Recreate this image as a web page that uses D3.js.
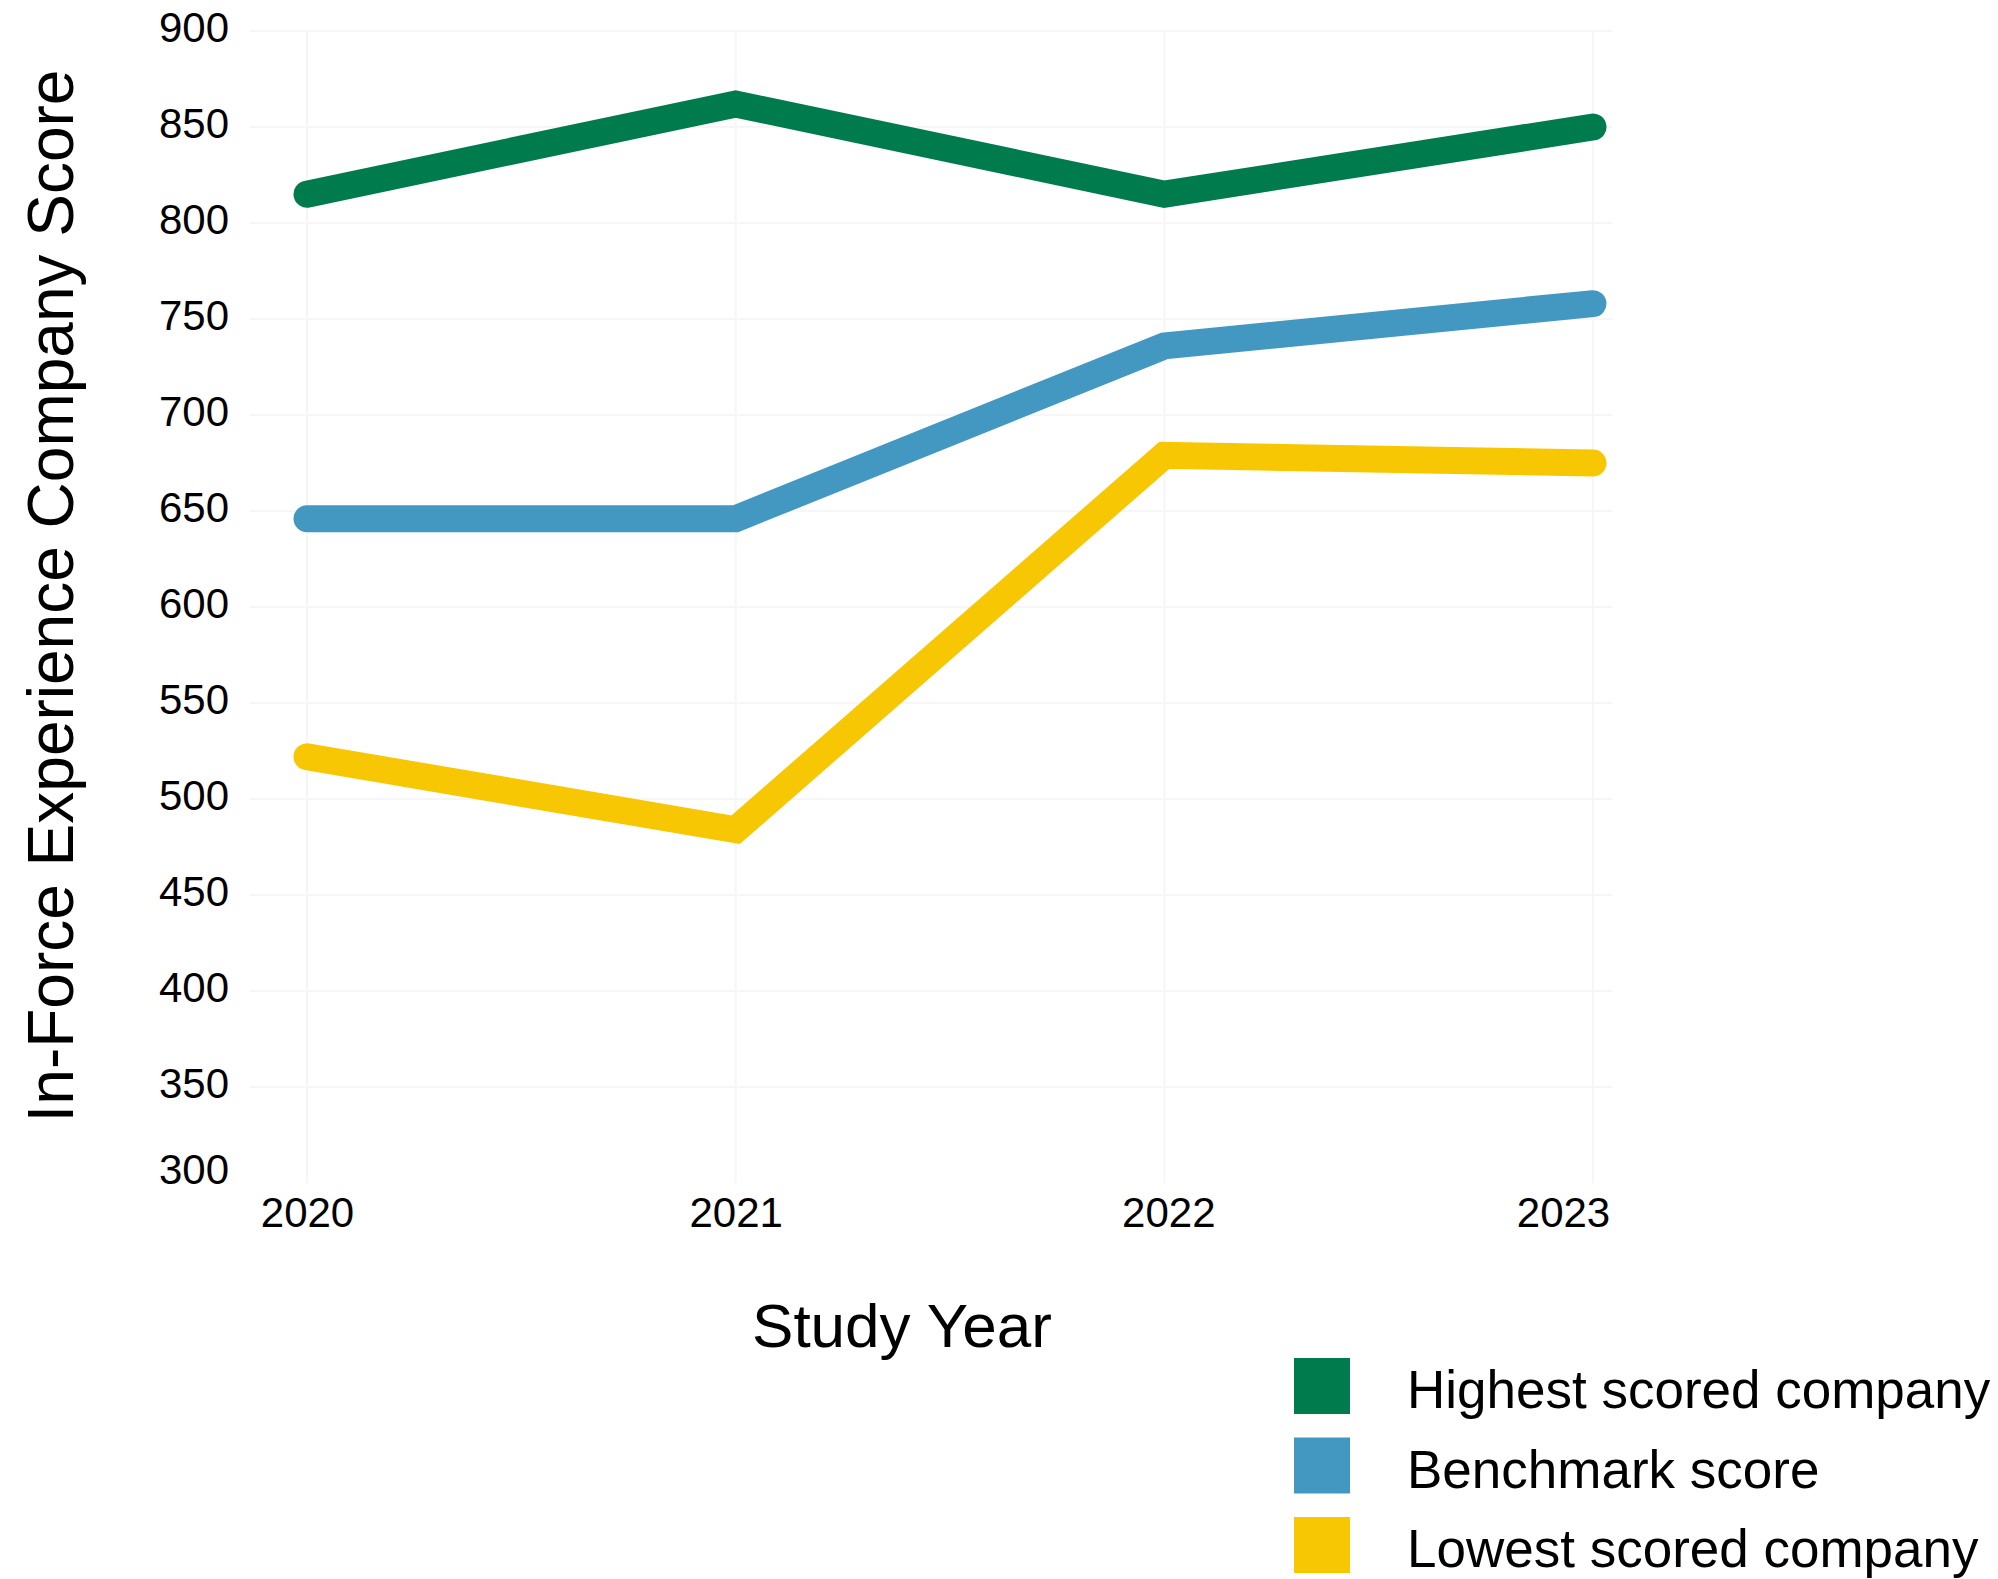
<!DOCTYPE html>
<html>
<head>
<meta charset="utf-8">
<script src="https://cdn.jsdelivr.net/npm/d3@7"></script>
<style>
  html, body { margin: 0; padding: 0; background: #fff; }
  svg { display: block; font-family: "Liberation Sans", Arial, sans-serif; }
  .grid line { stroke: #f6f6f6; stroke-width: 2; }
  .line { fill: none; stroke-width: 27; stroke-linecap: round; stroke-linejoin: miter; }
</style>
</head>
<body>
<div id="chart"></div>
<script>
// data
const years = [2020, 2021, 2022, 2023];
const highest = [815, 862, 815, 850];
const benchmark = [646, 646, 736, 758];
const lowest = [522, 484, 679, 675];
const seriesNames = ["Highest scored company", "Benchmark score", "Lowest scored company"];
const seriesColors = ["#007b4e", "#4398c1", "#f8c704"];
const yTicks = [300, 350, 400, 450, 500, 550, 600, 650, 700, 750, 800, 850, 900];

const WIDTH = 1998;
const HEIGHT = 1579;

const series = [highest, benchmark, lowest].map((values, i) => ({
  name: seriesNames[i],
  color: seriesColors[i],
  values: values.map((v, j) => ({ year: years[j], value: v }))
}));

// scales
const scaleX = d3.scalePoint().domain(years).range([307, 1593]);
const scaleY = d3.scaleLinear().domain([300, 900]).range([1183, 31]);

const $svg = d3.select("#chart")
  .append("svg")
  .attr("width", WIDTH)
  .attr("height", HEIGHT);

// faint grid
const $grid = $svg.append("g").attr("class", "grid");
$grid.selectAll(".h")
  .data(yTicks.filter(d => d > 300))
  .join("line")
  .attr("class", "h")
  .attr("x1", 250)
  .attr("x2", 1612)
  .attr("y1", d => scaleY(d))
  .attr("y2", d => scaleY(d));
$grid.selectAll(".v")
  .data(years)
  .join("line")
  .attr("class", "v")
  .attr("x1", d => scaleX(d))
  .attr("x2", d => scaleX(d))
  .attr("y1", scaleY(900))
  .attr("y2", scaleY(300));

// y axis
const axisY = d3.axisLeft(scaleY).tickValues(yTicks).tickSize(0).tickPadding(0);
const $axisY = $svg.append("g")
  .attr("transform", "translate(229,0)")
  .call(axisY);
$axisY.select(".domain").remove();
$axisY.selectAll("text")
  .attr("font-size", 42)
  .attr("font-family", "Liberation Sans, Arial, sans-serif")
  .attr("fill", "#000")
  .attr("dy", d => (d === 300 ? "-0.0em" : "0.32em"))
  .attr("y", d => (d === 300 ? 0 : -3));

// x axis
const axisX = d3.axisBottom(scaleX).tickSize(0).tickPadding(0);
const $axisX = $svg.append("g")
  .attr("transform", "translate(0,1197)")
  .call(axisX);
$axisX.select(".domain").remove();
$axisX.selectAll("text")
  .attr("font-size", 42)
  .attr("font-family", "Liberation Sans, Arial, sans-serif")
  .attr("fill", "#000")
  .attr("dy", "0.71em")
  .attr("dx", d => (d === 2023 ? -30 : d === 2022 ? 4 : 0));

// axis titles
$svg.append("text")
  .attr("transform", "translate(73,596) rotate(-90)")
  .attr("text-anchor", "middle")
  .attr("font-size", 64)
  .text("In-Force Experience Company Score");

$svg.append("text")
  .attr("x", 902)
  .attr("y", 1347)
  .attr("text-anchor", "middle")
  .attr("font-size", 62)
  .text("Study Year");

// lines
const line = d3.line()
  .x(d => scaleX(d.year))
  .y(d => scaleY(d.value));

$svg.append("g")
  .selectAll("path")
  .data(series)
  .join("path")
  .attr("class", "line")
  .attr("stroke", d => d.color)
  .attr("d", d => line(d.values));

// legend
const $legend = $svg.append("g").attr("transform", "translate(1294,1358)");
const $item = $legend.selectAll("g")
  .data(series)
  .join("g")
  .attr("transform", (d, i) => `translate(0,${i * 79.5})`);
$item.append("rect")
  .attr("width", 56)
  .attr("height", 56)
  .attr("fill", d => d.color);
$item.append("text")
  .attr("x", 113)
  .attr("y", 50)
  .attr("font-size", 53)
  .text(d => d.name);
</script>
</body>
</html>
